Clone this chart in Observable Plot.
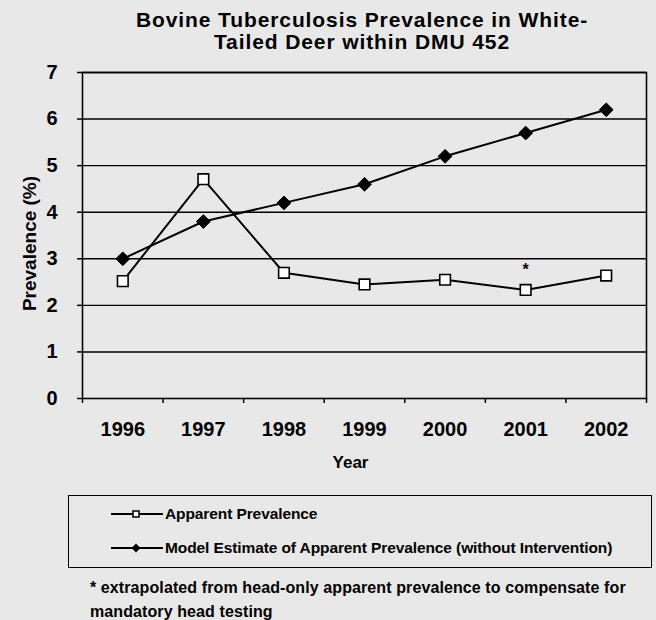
<!DOCTYPE html>
<html>
<head>
<meta charset="utf-8">
<script src="https://cdn.jsdelivr.net/npm/d3@7"></script>
<script src="https://cdn.jsdelivr.net/npm/@observablehq/plot@0.6"></script>
<style>
  html, body { margin: 0; padding: 0; background: #e8e8e8; }
  #page { position: relative; width: 656px; height: 620px; font-family: "Liberation Sans", Arial, sans-serif; color: #000; overflow: hidden; }
  #title { position: absolute; left: 0; top: 9px; width: 724px; text-align: center; font-weight: bold; font-size: 21px; line-height: 22px; letter-spacing: 0.9px; }
  #chart { position: absolute; left: 0; top: 52px; }
  #legend { position: absolute; left: 68px; top: 495px; width: 584px; height: 73px; border: 1.5px solid #000; box-sizing: border-box; }
  .lrow { position: absolute; left: 42px; display: flex; align-items: center; font-weight: bold; font-size: 15.5px; letter-spacing: -0.1px; height: 20px; }
  .lrow svg { margin-right: 2px; }
  #foot { position: absolute; left: 90px; top: 576px; font-size: 16px; font-weight: bold; letter-spacing: 0.1px; line-height: 24px; white-space: nowrap; }
</style>
</head>
<body>
<div id="page">
  <div id="title">Bovine Tuberculosis Prevalence in White-<br>Tailed Deer within DMU 452</div>
  <div id="chart"></div>
  <div id="legend"></div>
  <div id="foot">* extrapolated from head-only apparent prevalence to compensate for<br>mandatory head testing</div>
</div>
<script>
const years = [1996, 1997, 1998, 1999, 2000, 2001, 2002];
const apparent = [2.52, 4.71, 2.70, 2.45, 2.55, 2.33, 2.64];
const model = [3.0, 3.8, 4.2, 4.6, 5.2, 5.7, 6.2];
const yTicks = [0, 1, 2, 3, 4, 5, 6, 7];
const seriesNames = ["Apparent Prevalence", "Model Estimate of Apparent Prevalence (without Intervention)"];
const asteriskYear = 2001;
const asteriskValue = 2.76;

const appData = years.map((yr, i) => ({year: yr, value: apparent[i]}));
const modelData = years.map((yr, i) => ({year: yr, value: model[i]}));
const bounds = [years[0] - 0.5, ...years.map(y => y + 0.5)];

const chart = Plot.plot({
  width: 656,
  height: 428,
  marginLeft: 82,
  marginRight: 10,
  marginTop: 20,
  marginBottom: 82,
  style: {background: "transparent", fontFamily: "Liberation Sans, Arial, sans-serif", fontWeight: "bold", fontSize: "20px", color: "#000"},
  x: {type: "linear", domain: [bounds[0], bounds[bounds.length - 1]]},
  y: {domain: [0, 7]},
  marks: [
    Plot.ruleY(yTicks.filter(v => v > 0), {stroke: "#000", strokeWidth: 1.4}),
    Plot.frame({stroke: "#000", strokeWidth: 1.6}),
    Plot.line(appData, {x: "year", y: "value", stroke: "#000", strokeWidth: 2}),
    Plot.line(modelData, {x: "year", y: "value", stroke: "#000", strokeWidth: 2}),
    Plot.dot(appData, {x: "year", y: "value", symbol: "square", r: 6, fill: "#fff", stroke: "#000", strokeWidth: 1.6}),
    Plot.dot(modelData, {x: "year", y: "value", symbol: "diamond2", r: 6.2, fill: "#000", stroke: "#000", strokeWidth: 1}),
    Plot.text([{year: asteriskYear, value: asteriskValue}], {x: "year", y: "value", text: () => "*", fontSize: 16, fontWeight: "bold"}),
    Plot.axisY(yTicks, {tickSize: 5, tickPadding: 20, label: null, strokeWidth: 1.5}),
    Plot.axisX(years, {tickSize: 0, tickPadding: 23, tickFormat: d => String(d), label: null, letterSpacing: "0.5px"}),
    Plot.axisX(bounds, {tickSize: 5, tickFormat: () => "", label: null, strokeWidth: 1.5}),
    Plot.text(["Year"], {frameAnchor: "bottom", dx: -14, dy: 64, text: d => d, fontSize: 17, fontWeight: "bold", lineAnchor: "middle", textAnchor: "middle", letterSpacing: "1.5px"}),
    Plot.text(["Prevalence (%)"], {frameAnchor: "left", dx: -53, dy: 8, rotate: -90, text: d => d, fontSize: 19, fontWeight: "bold", lineAnchor: "middle", textAnchor: "middle", letterSpacing: "0.8px"})
  ]
});
document.getElementById("chart").appendChild(chart);

// legend
const legend = document.getElementById("legend");
const rowsTop = [8, 42];
seriesNames.forEach((name, i) => {
  const row = document.createElement("div");
  row.className = "lrow";
  row.style.top = rowsTop[i] + "px";
  const sw = d3.create("svg").attr("width", 52).attr("height", 20);
  sw.append("line").attr("x1", 0).attr("x2", 52).attr("y1", 10).attr("y2", 10).attr("stroke", "#000").attr("stroke-width", 2);
  if (i === 0) {
    sw.append("rect").attr("x", 22).attr("y", 7).attr("width", 6).attr("height", 6).attr("fill", "#fff").attr("stroke", "#000").attr("stroke-width", 1.5);
  } else {
    sw.append("path").attr("d", "M25,5.5 L29.5,10 L25,14.5 L20.5,10 Z").attr("fill", "#000");
  }
  row.appendChild(sw.node());
  const t = document.createElement("span");
  t.textContent = name;
  row.appendChild(t);
  legend.appendChild(row);
});
</script>
</body>
</html>
